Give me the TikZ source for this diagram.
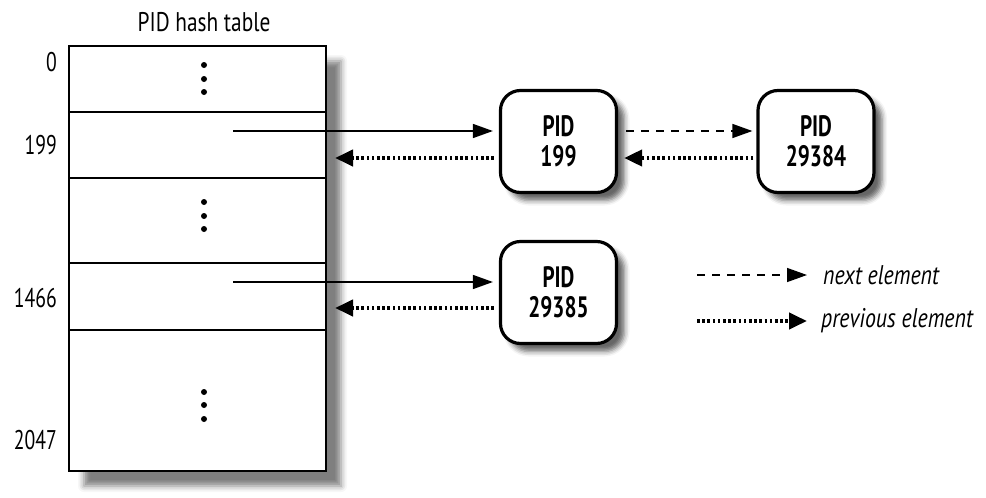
\documentclass[tikz,border=0pt]{standalone}
\usepackage{fontspec}
\setmainfont{PT Sans}[FakeStretch=0.79]
\newfontfamily\numfont{PT Sans}[FakeStretch=0.73]
\newfontfamily\boxfont{PT Sans Bold}[FakeStretch=0.72]
\newfontfamily\legfont{PT Sans Italic}[FakeStretch=0.81]
\usetikzlibrary{arrows.meta,shadows.blur}
\begin{document}
\begin{tikzpicture}[x=1pt,y=-1pt,
  lbl/.style={font=\numfont\fontsize{27}{30}\selectfont, anchor=east, inner sep=0pt},
  pidbox/.style={draw, line width=3.2pt, rounded corners=20pt, fill=white, minimum width=116pt, minimum height=102pt, align=center, font=\boxfont\fontsize{29.5}{30}\selectfont,
     blur shadow={shadow xshift=8pt, shadow yshift=-8pt, shadow blur radius=5pt, shadow opacity=60}},
  solidarr/.style={line width=1.4pt, -{Triangle[length=20pt,width=14pt]}},
  dotarr/.style={line width=4pt, dash pattern=on 2.6pt off 2.6pt, -{Triangle[length=18pt,width=16pt]}},
  dasharr/.style={line width=1.4pt, dash pattern=on 8pt off 7pt, -{Triangle[length=20pt,width=14pt]}},
  dot/.style={circle, fill, inner sep=0pt, minimum size=6pt},
  legtext/.style={font=\legfont\fontsize{27}{30}\selectfont, anchor=west, inner sep=0pt}]
\useasboundingbox (0,0) rectangle (986,498);
% table
\node[draw, line width=2pt, fill=white, minimum width=257pt, minimum height=425pt, inner sep=0pt,
  blur shadow={shadow xshift=15pt, shadow yshift=-15pt, shadow blur radius=6pt, shadow opacity=50}] (tab) at (197.5,258.5) {};
\draw[line width=1.6pt] (69,112) -- (326,112) (69,178) -- (326,178) (69,263) -- (326,263) (69,330) -- (326,330);
\node[font=\fontsize{27}{30}\selectfont, inner sep=0pt] (title) at (204,22) {PID hash table};
\node[lbl] (l0) at (57,62) {0};
\node[lbl] (l199) at (57,145) {199};
\node[lbl] (l1466) at (57,298) {1466};
\node[lbl] (l2047) at (57,440) {2047};
\foreach \y [count=\i] in {65,79,92, 202,216,229, 392,405,419} \node[dot] (d\i) at (204,\y) {};
% boxes
\node[pidbox] (b199) at (558.5,141.5) {PID\\199};
\node[pidbox] (b29384) at (816,141.5) {PID\\29384};
\node[pidbox] (b29385) at (558.5,292.5) {PID\\29385};
\coordinate (s199) at (233,131);
\coordinate (s1466) at (233,282);
\coordinate (e199) at (335,158);
\coordinate (e1466) at (335,308);
\draw[solidarr] (s199) -- ([xshift=-6pt]s199 -| b199.west);
\draw[dotarr] ([xshift=-5pt]e199 -| b199.west) -- (e199);
\draw[dasharr] ([xshift=8pt]b199.east |- s199) -- ([xshift=-4pt]b29384.west |- s199);
\draw[dotarr] ([xshift=-3pt]b29384.west |- e199) -- ([xshift=6pt]b199.east |- e199);
\draw[solidarr] (s1466) -- ([xshift=-6pt]s1466 -| b29385.west);
\draw[dotarr] ([xshift=-5pt]e1466 -| b29385.west) -- (e1466);
% legend
\coordinate (ln1) at (697,275);
\coordinate (ln2) at (807,275);
\coordinate (lp1) at (697,321);
\coordinate (lp2) at (807,321);
\draw[dasharr] (ln1) -- (ln2);
\draw[dotarr] (lp1) -- (lp2);
\node[legtext] (tn) at (823,275) {next element};
\node[legtext] (tp) at (821,321) {previous element};
\end{tikzpicture}
\end{document}
